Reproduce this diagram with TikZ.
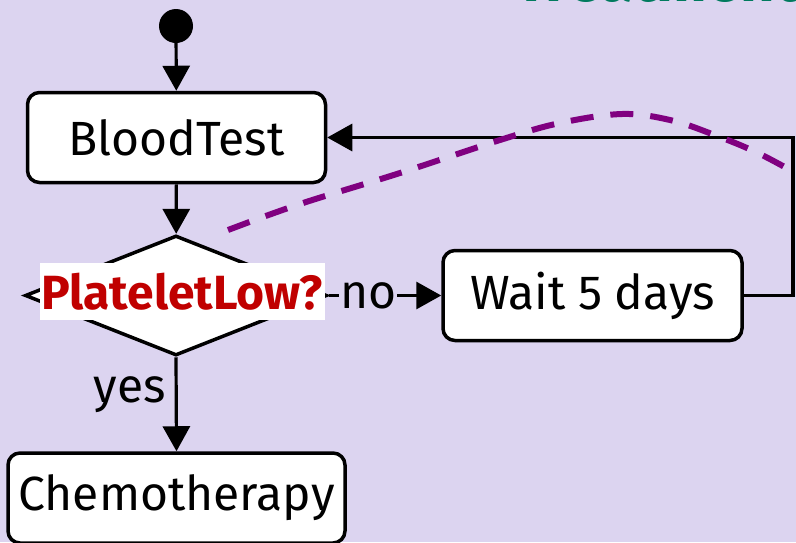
\documentclass[tikz,border=0pt]{standalone}
\usepackage{fontspec}
\setmainfont{Fira Sans}
\usetikzlibrary{arrows.meta,shapes.geometric}
\definecolor{bg}{RGB}{220,212,240}
\definecolor{alarm}{RGB}{192,0,0}
\definecolor{loopline}{RGB}{128,0,128}
\definecolor{titlegreen}{RGB}{0,122,94}
\begin{document}
\begin{tikzpicture}[x=1pt,y=-1pt,
  stepbox/.style={draw, line width=3.5pt, rounded corners=12pt, fill=white,
    inner sep=0pt, font=\fontsize{48}{56}\selectfont},
  decision/.style={draw, line width=3.5pt, fill=white, shape=diamond,
    aspect=2.5, inner sep=0pt},
  flow/.style={line width=3.2pt, -{Triangle[length=25pt,width=27pt]}},
  guard/.style={font=\fontsize{48}{56}\selectfont, inner sep=1pt},
  alarmtag/.style={fill=white, text=alarm, inner sep=0pt,
    font=\fontsize{48}{56}\selectfont\bfseries},
  startdot/.style={circle, fill=black, minimum size=34pt, inner sep=0pt},
  rework/.style={draw=loopline, line width=6pt, dash pattern=on 23pt off 17pt}]
\path[use as bounding box, fill=bg] (0,0) rectangle (796,542);
\begin{scope}
\clip (0,0) rectangle (796,542);

% slide title, running off the top edge
\node[anchor=base west, text=titlegreen, inner sep=0pt,
  font=\fontsize{60}{70}\selectfont\bfseries] (title) at (515,1) {Treatment};

% activity nodes
\node[startdot] (start) at (176,26) {};
\node[stepbox, minimum width=298pt, minimum height=90pt] (blood) at (176.5,137.5) {BloodTest};
\node[decision, minimum width=302pt, minimum height=120pt] (dec) at (176,295.5) {};
\node[alarmtag, minimum width=285pt, minimum height=57pt] (tag) at (182,291.5) {PlateletLow?};
\node[stepbox, minimum width=299pt, minimum height=90pt] (wait) at (592.5,295.5) {Wait 5 days};
\node[stepbox, minimum width=337pt, minimum height=90pt] (chemo) at (176.5,498) {Chemotherapy};
\coordinate (turn) at (793,137.5);

% control flow
\draw[flow] (start) -- (blood);
\draw[flow] (blood) -- (dec);
\draw[flow] (dec.south) -- node[pos=0.4, left=8pt, guard] {yes} (chemo.north);
\draw[flow] (dec.east) -- node[pos=0.35, fill=bg, guard] {no} (wait.west);
\draw[flow] (wait.east) -| (turn) -- (blood.east);

% rework path
\draw[rework] plot[smooth, tension=0.6] coordinates
  {(228,230) (300,204) (400,173) (500,140) (560,123) (622,114) (670,120) (712,134) (760,154) (815,184)};
\end{scope}
\end{tikzpicture}
\end{document}
